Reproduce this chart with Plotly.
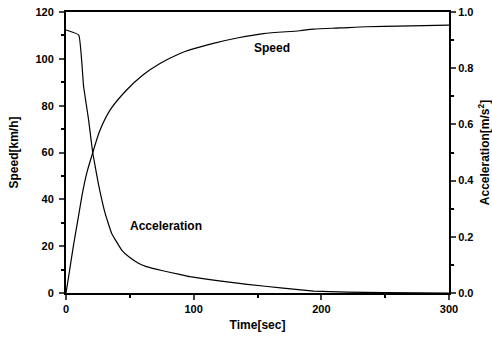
import plotly.graph_objects as go

# Speed curve (km/h) vs time (s)
speed_time = [0, 2, 5.7, 10, 13, 16.2, 20.9, 26.6, 35, 47.5, 60, 73.6, 89.3, 97, 115.4, 135, 154.6, 183, 193.8, 215, 235.5, 260, 300]
speed_kmh = [0, 6.8, 19.8, 33.5, 43, 51.1, 59.8, 69.5, 78.5, 86.7, 93, 98, 102.3, 103.8, 106.6, 109, 110.8, 112, 112.7, 113.2, 113.7, 114, 114.4]

# Acceleration curve (m/s^2) vs time (s)
acc_time = [0, 10, 13.8, 17.7, 20.9, 25.3, 30.6, 35.8, 43.6, 50, 56.7, 63, 75, 89, 97, 120, 142, 170, 194, 220, 250, 300]
acc_ms2 = [0.936, 0.918, 0.734, 0.616, 0.50, 0.39, 0.284, 0.212, 0.153, 0.126, 0.106, 0.094, 0.080, 0.066, 0.058, 0.043, 0.031, 0.017, 0.007, 0.003, 0.001, 0.0]

x_ticks = [0, 100, 200, 300]
y_ticks = [0, 20, 40, 60, 80, 100, 120]
y2_ticks = [0.0, 0.2, 0.4, 0.6, 0.8, 1.0]
y2_labels = ["0.0", "0.2", "0.4", "0.6", "0.8", "1.0"]

FONT = "Liberation Sans, Arial, sans-serif"
tickfont = dict(family=FONT, size=11, color="black", weight="bold")
titlefont = dict(family=FONT, size=12, color="black", weight="bold")

fig = go.Figure()
fig.add_trace(go.Scatter(x=speed_time, y=speed_kmh, mode="lines",
                         line=dict(color="black", width=1.2, shape="spline", smoothing=0.8),
                         name="Speed", yaxis="y"))
fig.add_trace(go.Scatter(x=acc_time, y=acc_ms2, mode="lines",
                         line=dict(color="black", width=1.2, shape="spline", smoothing=0.3),
                         name="Acceleration", yaxis="y2"))

fig.update_layout(
    width=492, height=341,
    margin=dict(l=66, r=43, t=12, b=48, autoexpand=False),
    paper_bgcolor="white", plot_bgcolor="white",
    showlegend=False,
    font=dict(family=FONT, color="black"),
    xaxis=dict(range=[0, 300], tickvals=x_ticks, ticks="outside", ticklen=5, tickwidth=1.5,
               showline=True, linecolor="black", linewidth=2, mirror=True,
               showgrid=False, zeroline=False, tickfont=tickfont, automargin=False,
               minor=dict(dtick=50, ticks="outside", ticklen=3, tickcolor="black"),
               title=dict(text="Time[sec]", font=titlefont, standoff=6)),
    yaxis=dict(range=[0, 120], tickvals=y_ticks, ticks="outside", ticklen=5, tickwidth=1.5,
               showline=True, linecolor="black", linewidth=2, ticklabelstandoff=3,
               showgrid=False, zeroline=False, tickfont=tickfont, automargin=False,
               minor=dict(dtick=10, ticks="outside", ticklen=3, tickcolor="black"),
               title=dict(text="Speed[km/h]", font=titlefont, standoff=14)),
    yaxis2=dict(range=[0, 1.0], tickvals=y2_ticks, ticktext=y2_labels, overlaying="y", side="right",
                ticks="outside", ticklen=5, tickwidth=1.5,
                showline=True, linecolor="black", linewidth=2,
                showgrid=False, zeroline=False, tickfont=tickfont, automargin=False,
                minor=dict(dtick=0.1, ticks="outside", ticklen=3, tickcolor="black"),
                title=dict(text="Acceleration[m/s<sup>2</sup>]", font=titlefont, standoff=8)),
    annotations=[
        dict(text="Speed", x=161, y=104.5, xref="x", yref="y", showarrow=False,
             font=dict(family=FONT, size=12, color="black", weight="bold")),
        dict(text="Acceleration", x=78.5, y=28.5, xref="x", yref="y", showarrow=False,
             font=dict(family=FONT, size=12, color="black", weight="bold")),
    ],
)

fig.write_html("out.html", config={"displayModeBar": False},
               post_script="document.body.style.margin='0';")
